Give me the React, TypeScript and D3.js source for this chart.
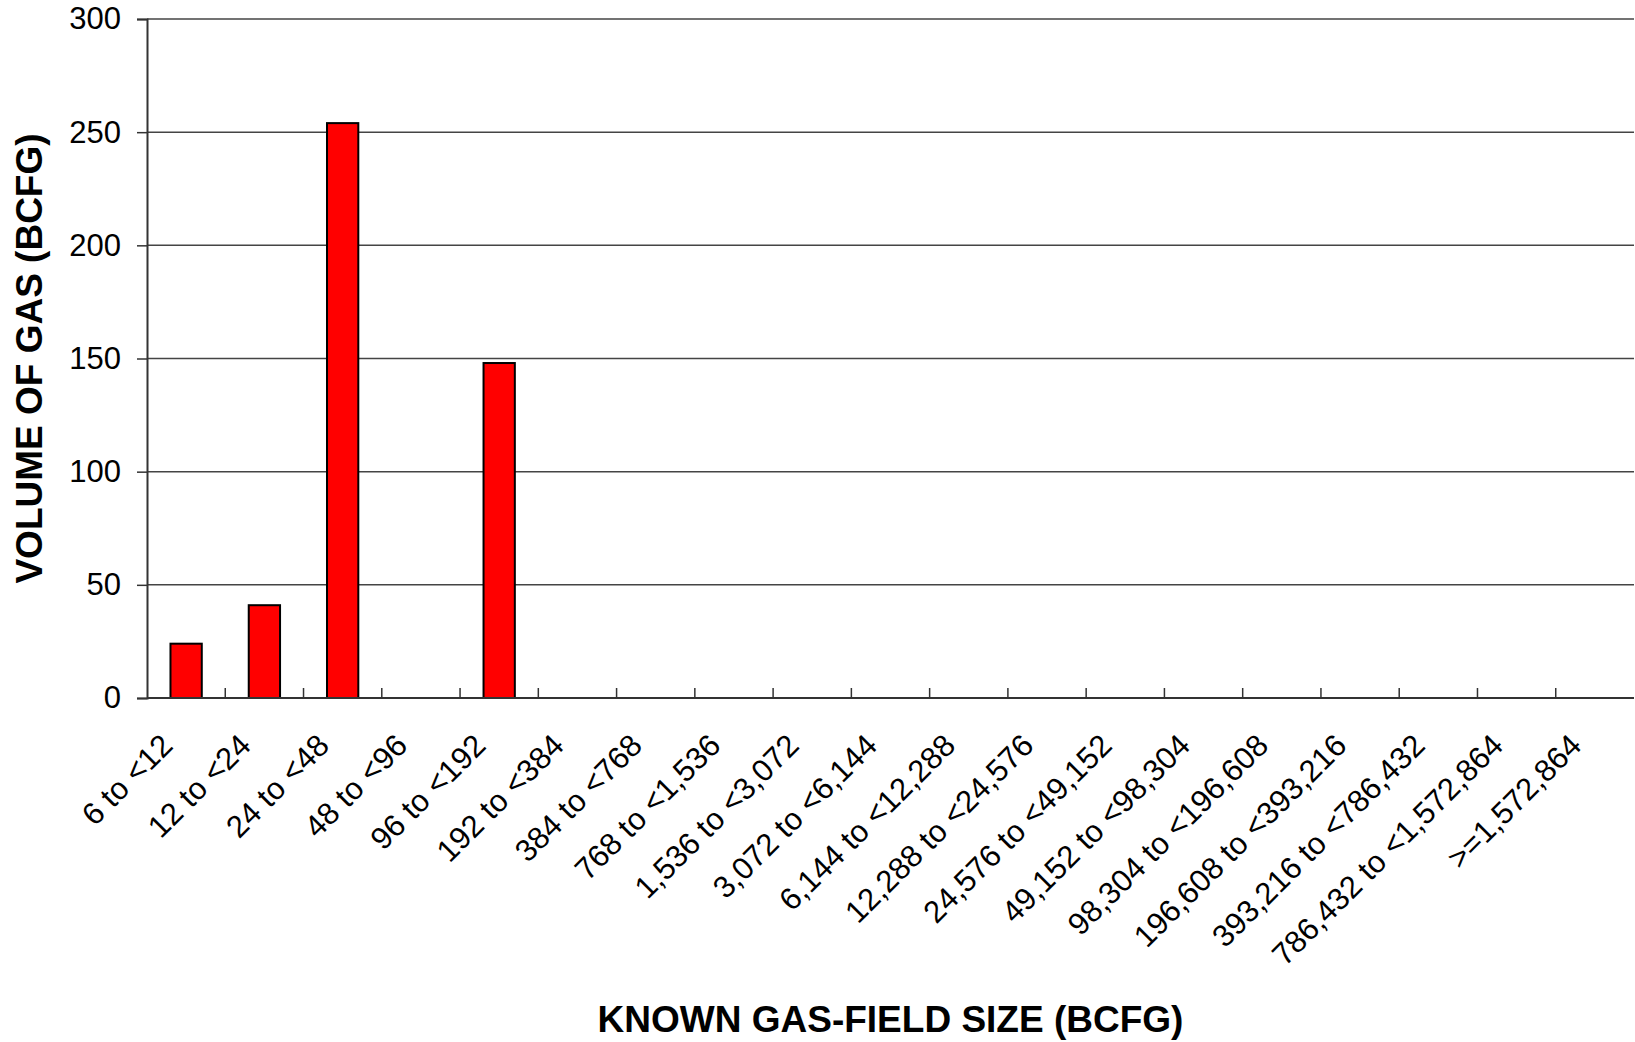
import { useEffect, useRef } from "react";
import * as d3 from "d3";

const categories = [
  "6 to <12",
  "12 to <24",
  "24 to <48",
  "48 to <96",
  "96 to <192",
  "192 to <384",
  "384 to <768",
  "768 to <1,536",
  "1,536 to <3,072",
  "3,072 to <6,144",
  "6,144 to <12,288",
  "12,288 to <24,576",
  "24,576 to <49,152",
  "49,152 to <98,304",
  "98,304 to <196,608",
  "196,608 to <393,216",
  "393,216 to <786,432",
  "786,432 to <1,572,864",
  ">=1,572,864",
];
const volumes = [24, 41, 254, 0, 148, 0, 0, 0, 0, 0, 0, 0, 0, 0, 0, 0, 0, 0, 0];
const yTicks = [0, 50, 100, 150, 200, 250, 300];

const X_TITLE = "KNOWN GAS-FIELD SIZE (BCFG)";
const Y_TITLE = "VOLUME OF GAS (BCFG)";

export default function App() {
  const ref = useRef<SVGSVGElement>(null);

  useEffect(() => {
    const svg = d3.select(ref.current);
    svg.selectAll("*").remove();

    const WIDTH = 1635;
    const HEIGHT = 1042;
    const MARGIN = { TOP: 19, BOTTOM: 344, LEFT: 147, RIGHT: 1 };
    const FONT = "Arial, 'Liberation Sans', Helvetica, sans-serif";

    const x = d3.scaleBand<string>()
      .domain(categories)
      .range([MARGIN.LEFT, WIDTH - MARGIN.RIGHT])
      .paddingInner(0.6)
      .paddingOuter(0.3);

    const y = d3.scaleLinear()
      .domain([0, 300])
      .range([HEIGHT - MARGIN.BOTTOM, MARGIN.TOP]);

    const step = x.step();
    const bw = x.bandwidth();

    // gridlines
    svg.append("g")
      .selectAll("line")
      .data(yTicks.filter(d => d > 0))
      .join("line")
      .attr("x1", MARGIN.LEFT)
      .attr("x2", WIDTH - MARGIN.RIGHT)
      .attr("y1", d => y(d))
      .attr("y2", d => y(d))
      .attr("stroke", "#444")
      .attr("stroke-width", 1.5);

    // bars
    svg.append("g")
      .selectAll("rect")
      .data(categories.map((c, i) => ({ c, v: volumes[i] })).filter(d => d.v > 0))
      .join("rect")
      .attr("x", d => x(d.c)!)
      .attr("y", d => y(d.v))
      .attr("width", bw)
      .attr("height", d => y(0) - y(d.v))
      .attr("fill", "#ff0000")
      .attr("stroke", "#000")
      .attr("stroke-width", 2);

    // y axis
    const yAxis = d3.axisLeft(y)
      .tickValues(yTicks)
      .tickSize(10)
      .tickPadding(16)
      .tickFormat(d3.format("d"));
    const gy = svg.append("g")
      .attr("transform", `translate(${MARGIN.LEFT},0)`)
      .call(yAxis);
    gy.select(".domain").attr("stroke", "#333").attr("stroke-width", 2);
    gy.selectAll(".tick line").attr("stroke", "#333").attr("stroke-width", 1.5);
    gy.selectAll(".tick text")
      .attr("font-family", FONT)
      .attr("font-size", 31)
      .attr("fill", "#000");

    // x axis line and category ticks (inside)
    const y0 = y(0);
    svg.append("line")
      .attr("x1", MARGIN.LEFT)
      .attr("x2", WIDTH - MARGIN.RIGHT)
      .attr("y1", y0)
      .attr("y2", y0)
      .attr("stroke", "#333")
      .attr("stroke-width", 2);

    svg.append("g")
      .selectAll("line")
      .data(categories.slice(0, -1))
      .join("line")
      .attr("x1", d => x(d)! + bw + (step - bw) / 2)
      .attr("x2", d => x(d)! + bw + (step - bw) / 2)
      .attr("y1", y0)
      .attr("y2", y0 - 10)
      .attr("stroke", "#333")
      .attr("stroke-width", 1.5);

    // rotated category labels
    svg.append("g")
      .selectAll("text")
      .data(categories)
      .join("text")
      .attr("transform", d => `translate(${x(d)! + bw / 2 - 27},${y0 + 34}) rotate(-45)`)
      .attr("text-anchor", "end")
      .attr("dy", "0.7em")
      .attr("font-family", FONT)
      .attr("font-size", 31)
      .attr("fill", "#000")
      .text(d => d);

    // axis titles
    svg.append("text")
      .attr("x", (MARGIN.LEFT + WIDTH - MARGIN.RIGHT) / 2)
      .attr("y", 1032)
      .attr("text-anchor", "middle")
      .attr("font-family", FONT)
      .attr("font-weight", "bold")
      .attr("font-size", 37)
      .attr("fill", "#000")
      .text(X_TITLE);

    svg.append("text")
      .attr("transform", `translate(42,${(MARGIN.TOP + y0) / 2}) rotate(-90)`)
      .attr("text-anchor", "middle")
      .attr("font-family", FONT)
      .attr("font-weight", "bold")
      .attr("font-size", 37)
      .attr("fill", "#000")
      .text(Y_TITLE);
  }, []);

  return (
    <svg
      ref={ref}
      width={1635}
      height={1042}
      style={{ position: "absolute", left: 0, top: 0, background: "#fff" }}
    />
  );
}
